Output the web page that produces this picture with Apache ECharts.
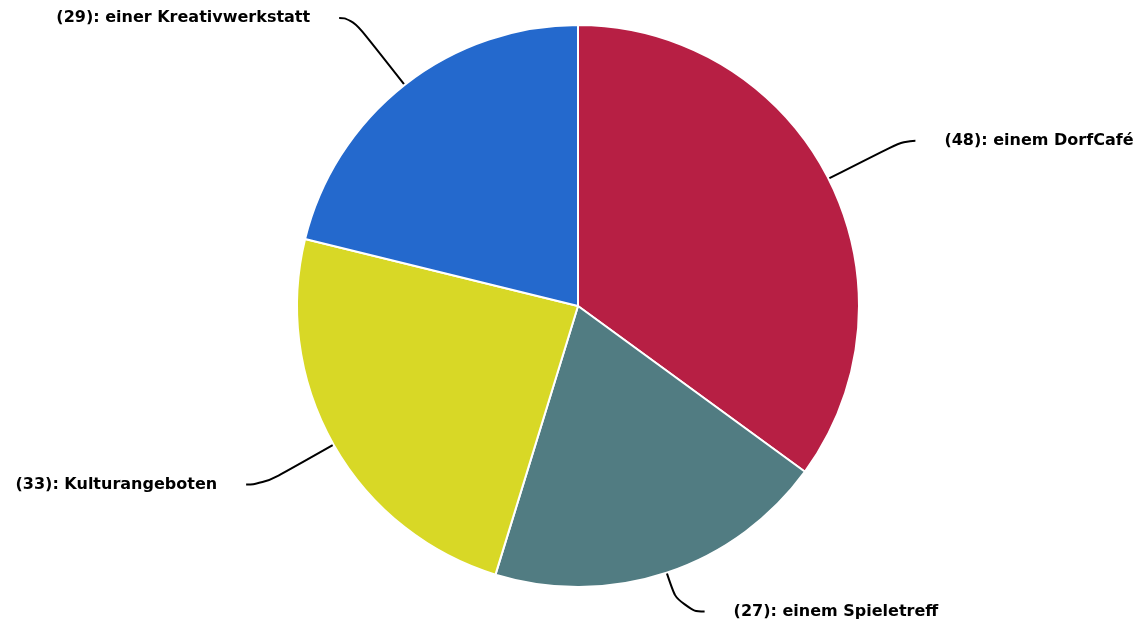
<!DOCTYPE html>
<html>
<head>
<meta charset="utf-8">
<script src="https://cdn.jsdelivr.net/npm/echarts@6/dist/echarts.min.js"></script>
<style>
  html, body { margin: 0; padding: 0; background: #ffffff; }
  #chart { width: 1145px; height: 629px; }
</style>
</head>
<body>
<div id="chart"></div>
<script>
// Wünsche für den Ort: Anzahl der Nennungen
const categories = ['einem DorfCafé', 'einem Spieletreff', 'Kulturangeboten', 'einer Kreativwerkstatt'];
const counts = [48, 27, 33, 29];
const colors = ['#B71F44', '#517C82', '#D8D826', '#2469CD'];
// Leader line lengths per slice (first segment, horizontal segment)
const lineLen = [[84, 12], [41, 25], [81, 17], [85, 13]];

const data = categories.map((name, i) => ({
  name: name,
  value: counts[i],
  itemStyle: { color: colors[i] },
  labelLine: { length: lineLen[i][0], length2: lineLen[i][1] }
}));

const chart = echarts.init(document.getElementById('chart'));
chart.setOption({
  animation: false,
  backgroundColor: '#ffffff',
  series: [{
    type: 'pie',
    center: [578, 306],
    radius: [0, 281],
    startAngle: 90,
    clockwise: true,
    avoidLabelOverlap: false,
    data: data,
    itemStyle: { borderColor: '#ffffff', borderWidth: 2 },
    label: {
      show: true,
      formatter: p => '(' + p.value + '): ' + p.name,
      fontFamily: 'DejaVu Sans',
      fontWeight: 'bold',
      fontSize: 16,
      color: '#000000',
      distanceToLabelLine: 29
    },
    labelLine: {
      show: true,
      smooth: 0.6,
      lineStyle: { color: '#000000', width: 2 }
    }
  }]
});
</script>
</body>
</html>
